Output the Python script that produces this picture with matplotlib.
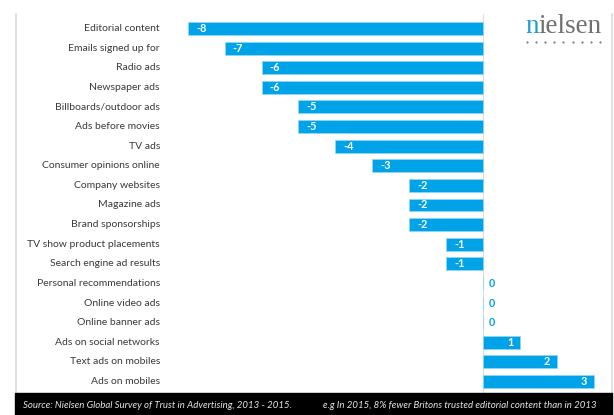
import matplotlib.pyplot as plt
from matplotlib.lines import Line2D
from matplotlib.patches import Rectangle

# Change in trust 2013 -> 2015 (percentage points), top to bottom
categories = [
    "Editorial content", "Emails signed up for", "Radio ads", "Newspaper ads",
    "Billboards/outdoor ads", "Ads before movies", "TV ads",
    "Consumer opinions online", "Company websites", "Magazine ads",
    "Brand sponsorships", "TV show product placements",
    "Search engine ad results", "Personal recommendations",
    "Online video ads", "Online banner ads", "Ads on social networks",
    "Text ads on mobiles", "Ads on mobiles",
]
values = [-8, -7, -6, -6, -5, -5, -4, -3, -2, -2, -2, -1, -1, 0, 0, 0, 1, 2, 3]

source_text = "Source: Nielsen Global Survey of Trust in Advertising, 2013 - 2015."
note_text = "e.g In 2015, 8% fewer Britons trusted editorial content than in 2013"

BLUE = "#00a3e8"
W, H = 614, 415

plt.rcParams["font.family"] = ["Lato", "DejaVu Sans"]
fig = plt.figure(figsize=(W / 100, H / 100), dpi=100)

# axes spans the framed area between the two grey border lines
ax = fig.add_axes([16 / W, (H - 393) / H, (612 - 16) / W, (393 - 14) / H])
ppu = 36.9   # pixels per unit
row = 19.61  # pixels per row
ax.set_xlim((16 - 483) / ppu, (612 - 483) / ppu)
ax.set_ylim((393 - 28.5) / row, (14 - 28.5) / row)

ypos = list(range(len(categories)))
ax.barh(ypos, values, height=0.66, color=BLUE, edgecolor="#8fd6f5",
        linewidth=0.6, zorder=2)
ax.axvline(0, color="#dddddd", lw=0.8, zorder=1)

for y, cat, v in zip(ypos, categories, values):
    ax.text((160 - 483) / ppu, y, cat, ha="right", va="center",
            fontsize=7.5, color="#3a3a3a")
    if v < 0:
        ax.text(v + 0.22, y, str(v), ha="left", va="center", fontsize=7.8,
                color="white", fontweight="bold", zorder=3)
    elif v > 0:
        ax.text(v - 0.18, y, str(v), ha="right", va="center", fontsize=7.8,
                color="white", fontweight="bold", zorder=3)
    else:
        ax.text(0.16, y, str(v), ha="left", va="center", fontsize=7.8,
                color=BLUE, fontweight="bold", zorder=3)

ax.set_xticks([])
ax.set_yticks([])
for s in ["top", "bottom"]:
    ax.spines[s].set_visible(False)
for s in ["left", "right"]:
    ax.spines[s].set_color("#dcdcdc")
    ax.spines[s].set_linewidth(1.2)

# nielsen logo
t1 = fig.text(525 / W, 1 - 33 / H, "n", color="#1a9fd8", fontsize=19.5,
              family="Liberation Serif", va="baseline", ha="left")
fig.canvas.draw()
x_end = t1.get_window_extent().x1 / fig.bbox.width
fig.text(x_end, 1 - 33 / H, "ielsen", color="#707070", fontsize=19.5,
         family="Liberation Serif", va="baseline", ha="left")
dot_x = [(527 + i * 9.1) / W for i in range(9)]
fig.add_artist(Line2D(dot_x, [1 - 42 / H] * 9, transform=fig.transFigure,
                      linestyle="none", marker="o", markersize=1.6,
                      color="#808080", markeredgewidth=0))

# black footer band
fig.patches.append(Rectangle((15 / W, 0), (612 - 15) / W, (H - 393) / H,
                             transform=fig.transFigure, color="black",
                             zorder=0))
fig.text(23 / W, 1 - 405 / H, source_text, color="#e6e6e6", fontsize=6.95,
         style="italic", ha="left", va="center")
fig.text(597 / W, 1 - 405 / H, note_text, color="#e6e6e6", fontsize=6.95,
         style="italic", ha="right", va="center")

fig.savefig("out.png", dpi=100, facecolor="white")
